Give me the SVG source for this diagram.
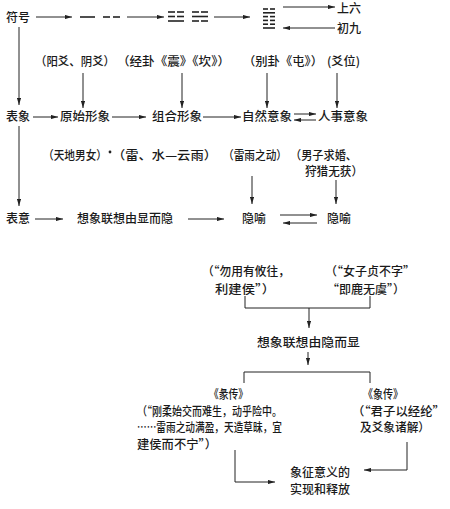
<svg xmlns="http://www.w3.org/2000/svg" width="450" height="509" viewBox="0 0 450 509">
<defs>
<marker id="ah" viewBox="0 0 10 6" refX="10" refY="3" markerWidth="7" markerHeight="4.2" orient="auto" markerUnits="userSpaceOnUse">
<path d="M0,0 L10,3 L0,6 Z" fill="#222"/>
</marker>
<style>
text{font-family:"Noto Sans CJK SC","Noto Sans CJK JP",sans-serif;font-size:12px;fill:#1a1a1a;font-weight:500;}
.c line,.c path{stroke:#222;stroke-width:1;fill:none;}
.c .a{marker-end:url(#ah);}
.g line{stroke:#222;stroke-width:1.6;}
</style>
</defs>
<rect width="450" height="509" fill="#fff"/>

<g id="fuhao"><text x="6" y="22">符号</text></g>
<g id="yao" class="g">
<line x1="80" y1="17" x2="95" y2="17"/>
<line x1="103" y1="17" x2="110" y2="17"/><line x1="113" y1="17" x2="120" y2="17"/>
</g>
<g id="jinggua" class="g">
<line x1="168" y1="12" x2="175" y2="12"/><line x1="177" y1="12" x2="184" y2="12"/>
<line x1="168" y1="16.5" x2="175" y2="16.5"/><line x1="177" y1="16.5" x2="184" y2="16.5"/>
<line x1="168" y1="21" x2="184" y2="21"/>
<line x1="192" y1="12" x2="199" y2="12"/><line x1="201" y1="12" x2="208" y2="12"/>
<line x1="192" y1="16.5" x2="208" y2="16.5"/>
<line x1="192" y1="21" x2="199" y2="21"/><line x1="201" y1="21" x2="208" y2="21"/>
</g>
<g id="biegua" class="g">
<line x1="263" y1="9" x2="268" y2="9"/><line x1="270" y1="9" x2="275" y2="9"/>
<line x1="263" y1="12.8" x2="275" y2="12.8"/>
<line x1="263" y1="16.6" x2="268" y2="16.6"/><line x1="270" y1="16.6" x2="275" y2="16.6"/>
<line x1="263" y1="20.4" x2="268" y2="20.4"/><line x1="270" y1="20.4" x2="275" y2="20.4"/>
<line x1="263" y1="24.2" x2="268" y2="24.2"/><line x1="270" y1="24.2" x2="275" y2="24.2"/>
<line x1="263" y1="28" x2="275" y2="28"/>
</g>
<g id="shangliu"><text x="337" y="13">上六</text></g>
<g id="chujiu"><text x="337" y="33">初九</text></g>

<g id="labels2">
<text x="35" y="66" textLength="80" lengthAdjust="spacingAndGlyphs">（阳爻、阴爻）</text>
<text x="117" y="66" textLength="113" lengthAdjust="spacingAndGlyphs">（经卦《震》《坎》）</text>
<text x="243" y="66" textLength="80" lengthAdjust="spacingAndGlyphs">（别卦《屯》）</text>
<text x="327" y="66" textLength="33" lengthAdjust="spacingAndGlyphs">(爻位)</text>
</g>

<g id="biaoxiang"><text x="6" y="121">表象</text></g>
<g id="yuanshi"><text x="60" y="121" textLength="50" lengthAdjust="spacingAndGlyphs">原始形象</text></g>
<g id="zuhe"><text x="152" y="121" textLength="50" lengthAdjust="spacingAndGlyphs">组合形象</text></g>
<g id="ziran"><text x="242" y="121" textLength="50" lengthAdjust="spacingAndGlyphs">自然意象</text></g>
<g id="renshi"><text x="318" y="121" textLength="50" lengthAdjust="spacingAndGlyphs">人事意象</text></g>

<g id="labels4">
<text x="43" y="160" textLength="64" lengthAdjust="spacingAndGlyphs">（天地男女）</text>
<circle cx="110" cy="152" r="1.4" fill="#222"/>
<text x="112" y="160" textLength="105" lengthAdjust="spacingAndGlyphs">（雷、水—云雨）</text>
<text x="223" y="160" textLength="64" lengthAdjust="spacingAndGlyphs">（雷雨之动）</text>
<text x="290" y="160" textLength="67" lengthAdjust="spacingAndGlyphs">（男子求婚、</text>
<text x="305" y="176" textLength="58" lengthAdjust="spacingAndGlyphs">狩猎无获）</text>
</g>

<g id="biaoyi"><text x="6" y="223">表意</text></g>
<g id="xiangxiang1"><text x="77" y="223" textLength="96" lengthAdjust="spacingAndGlyphs">想象联想由显而隐</text></g>
<g id="yinyu1"><text x="242" y="223">隐喻</text></g>
<g id="yinyu2"><text x="327" y="223">隐喻</text></g>

<g id="quote1">
<text x="202" y="276" textLength="88" lengthAdjust="spacingAndGlyphs">（“勿用有攸往，</text>
<text x="215" y="294" textLength="60" lengthAdjust="spacingAndGlyphs">利建侯”）</text>
</g>
<g id="quote2">
<text x="325" y="276" textLength="90" lengthAdjust="spacingAndGlyphs">（“女子贞不字”</text>
<text x="327" y="294" textLength="78" lengthAdjust="spacingAndGlyphs">“即鹿无虞”）</text>
</g>
<g id="xiangxiang2"><text x="257" y="347" textLength="103" lengthAdjust="spacingAndGlyphs">想象联想由隐而显</text></g>
<g id="tuanzhuan">
<text x="209" y="399" textLength="39" lengthAdjust="spacingAndGlyphs">《彖传》</text>
<text x="137" y="416" textLength="145" lengthAdjust="spacingAndGlyphs">（“刚柔始交而难生，动乎险中。</text>
<text x="137" y="432" textLength="145" lengthAdjust="spacingAndGlyphs">……雷雨之动满盈，天造草昧，宜</text>
<text x="137" y="449" textLength="80" lengthAdjust="spacingAndGlyphs">建侯而不宁”）</text>
</g>
<g id="xiangzhuan">
<text x="363" y="399" textLength="40" lengthAdjust="spacingAndGlyphs">《象传》</text>
<text x="352" y="416" textLength="93" lengthAdjust="spacingAndGlyphs">（“君子以经纶”</text>
<text x="360" y="432" textLength="70" lengthAdjust="spacingAndGlyphs">及爻象诸解）</text>
</g>
<g id="result">
<text x="290" y="477" textLength="60" lengthAdjust="spacingAndGlyphs">象征意义的</text>
<text x="290" y="494" textLength="60" lengthAdjust="spacingAndGlyphs">实现和释放</text>
</g>

<g id="connectors" class="c">
<line class="a" x1="36" y1="17" x2="72" y2="17"/>
<line class="a" x1="127" y1="17" x2="164" y2="17"/>
<line class="a" x1="214" y1="17" x2="250" y2="17"/>
<line class="a" x1="283" y1="7" x2="335" y2="7"/>
<line class="a" x1="335" y1="28" x2="283" y2="28"/>
<line class="a" x1="19" y1="27" x2="19" y2="105"/>
<line class="a" x1="83" y1="73" x2="83" y2="108"/>
<line class="a" x1="182" y1="73" x2="182" y2="108"/>
<line class="a" x1="267" y1="73" x2="267" y2="108"/>
<line class="a" x1="337" y1="73" x2="337" y2="108"/>
<line class="a" x1="33" y1="117" x2="58" y2="117"/>
<line class="a" x1="112" y1="117" x2="146" y2="117"/>
<line class="a" x1="203" y1="117" x2="241" y2="117"/>
<line class="a" x1="294" y1="114" x2="316" y2="114"/>
<line class="a" x1="316" y1="120" x2="294" y2="120"/>
<line class="a" x1="19" y1="126" x2="19" y2="206"/>
<line class="a" x1="252" y1="176" x2="252" y2="204"/>
<line class="a" x1="336" y1="180" x2="336" y2="204"/>
<line class="a" x1="35" y1="219" x2="63" y2="219"/>
<line class="a" x1="188" y1="219" x2="224" y2="219"/>
<line class="a" x1="280" y1="215" x2="317" y2="215"/>
<line class="a" x1="317" y1="223" x2="283" y2="223"/>
<path d="M245,296 V308 H370 V296"/>
<line class="a" x1="309" y1="308" x2="309" y2="328"/>
<line class="a" x1="308" y1="352" x2="308" y2="365"/>
<path d="M244,383 V372 H370 V383"/>
<path class="a" d="M235,450 V482 H275"/>
<path class="a" d="M407,442 V470 H364"/>
</g>
</svg>
